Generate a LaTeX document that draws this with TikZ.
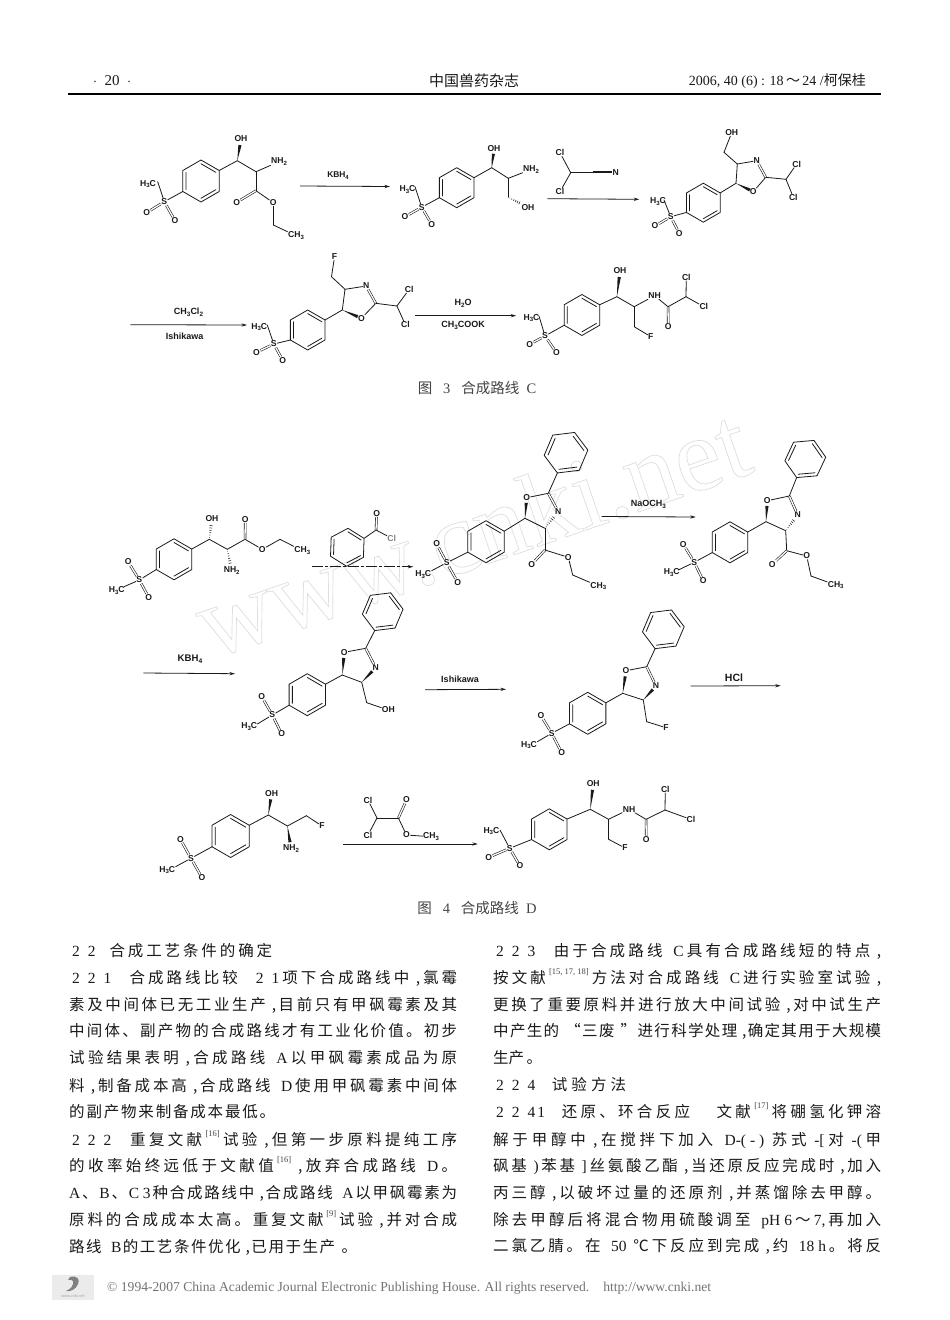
\documentclass[tikz,border=0pt]{standalone}
\usepackage{fontspec}
\usetikzlibrary{calc,arrows.meta}
\setmainfont{Liberation Serif}
\newfontfamily\lab{Liberation Sans}
\newfontfamily\cjk{Noto Sans CJK SC}
\definecolor{ink}{HTML}{1A1A1A}
\definecolor{capt}{HTML}{444444}
\definecolor{wm}{HTML}{DEDEDE}
\newcommand\sbs[1]{\raisebox{-0.22em}{\fontsize{.7em}{6}\selectfont #1}}
\newcommand\ltn[1]{{\rmfamily #1}}
\newcommand\sgp{\hspace{8pt}}
\newcommand\rf[1]{\raisebox{.6em}{\fontsize{8.5}{9}\selectfont\rmfamily\color{capt}#1}}
\tikzset{
  bond/.style={line width=.8pt,ink,line cap=round},
  dbl/.style={line width=.6pt,ink,double=white,double distance=1.3pt},
  atom/.style={font=\lab\bfseries\fontsize{8.6}{9}\selectfont,text=ink,inner sep=.4pt},
  rxn/.style={line width=.8pt,ink,-{Stealth[length=5.5pt,width=3.2pt]}},
  rgt/.style={font=\lab\bfseries\fontsize{9}{10}\selectfont,text=ink,inner sep=0pt},
  capn/.style={font=\cjk\fontsize{14.5}{16}\selectfont,text=capt,inner sep=0pt},
  blin/.style={font=\cjk\fontsize{15.5}{17}\selectfont,text=ink,inner sep=0pt,anchor=west,text height=12pt,text depth=3pt},
}
\newcommand\atm[3]{\node[atom] (#1) at (#2) {#3};}
\newcommand\crb[2]{\coordinate (#1) at (#2);}
\newcommand\bd[2]{\draw[bond] (#1) -- (#2);}
\newcommand\db[2]{\draw[dbl] (#1) -- (#2);}
\newcommand\wdg[3]{\fill[ink] (#1) -- ($($(#1)!#3!(#2)$)!1.6pt!90:(#1)$) -- ($($(#1)!#3!(#2)$)!1.6pt!-90:(#1)$) -- cycle;}
\newcommand\hsh[3]{\foreach \t/\w in {.12/.3,.27/.55,.42/.8,.57/1.05,.72/1.3,.87/1.55}{\draw[ink,line width=.55pt] ($($(#1)!\t*#3!(#2)$)!\w pt!90:(#1)$) -- ($($(#1)!\t*#3!(#2)$)!\w pt!-90:(#1)$);}}
\newcommand\arene[4]{%
  \coordinate (C) at (#1,#2);
  \foreach \k in {1,...,6}{\coordinate (R\k) at ({#1+#3*cos(#4+60*(\k-1))},{#2+#3*sin(#4+60*(\k-1))});}
  \draw[bond,line join=round] (R1)--(R2)--(R3)--(R4)--(R5)--(R6)--cycle;
  \draw[bond] ($(R1)!.18!(C)$)--($(R2)!.18!(C)$) ($(R3)!.18!(C)$)--($(R4)!.18!(C)$) ($(R5)!.18!(C)$)--($(R6)!.18!(C)$);}
\newcommand\sulfone[5]{%
  \atm{S}{#1}{S}\atm{Oa}{#2}{O}\atm{Ob}{#3}{O}
  \atm{Me}{#4}{H\sbs{3}C}\crb{Mb}{#5}
  \bd{S}{Mb}\db{S}{Oa}\db{S}{Ob}\bd{S}{R5}}
\makeatletter
\newcommand\bodyline[5]{\node[blin] (#1) at (#2,#3) {\hbox to #4pt{\@tfor\tkn:=#5\do{\tkn\hskip 0pt plus 1fil\relax}\unskip}};}
\makeatother
\begin{document}
\begin{tikzpicture}[x=1pt,y=-1pt]
\useasboundingbox (0,0) rectangle (950,1320);
\fill[white] (0,0) rectangle (950,1320);
% watermark: one outlined text
\node[font=\rmfamily\fontsize{104}{104}\selectfont,text=wm,rotate=19,inner sep=0pt] (wma) at (472,532) {\special{pdf:code 1 Tr 0.7 w}www.cnki.net\special{pdf:code 0 Tr}};
% header
\node[font=\rmfamily\fontsize{15}{16}\selectfont,text=ink,inner sep=0pt] (hl) at (112,81) {$\cdot$\ \ 20\ \ $\cdot$};
\node[font=\cjk\fontsize{15}{16}\selectfont,text=ink,inner sep=0pt] (hm) at (474,81) {中国兽药杂志};
\node[font=\rmfamily\fontsize{14}{16}\selectfont,text=ink,inner sep=0pt,anchor=east] (hr) at (866,81) {2006, 40 (6) : 18\,{\cjk ～}\,24 /{\cjk 柯保桂}};
\coordinate (hruleA) at (68,94);\coordinate (hruleB) at (881,94);
\draw[line width=1.9pt,black] (hruleA) -- (hruleB);
% ---------- Route C ----------
\begin{scope}[name prefix=c1-]
 \arene{201}{181}{21}{-90}
 \sulfone{164.3,201.7}{146.7,212.7}{175,220.7}{148,184}{157.7,181.7}
 \crb{a}{237.3,160.7}\atm{oh}{241,139}{OH}\crb{b}{256,171.7}\atm{n}{279,161.7}{NH\sbs{2}}
 \crb{c}{256,190.7}\atm{o1}{236.7,202.3}{O}\atm{o2}{273.3,202.7}{O}\crb{d}{273.3,225}\atm{me}{296,235.7}{CH\sbs{3}}
 \bd{R2}{a}\wdg{a}{oh}{.72}\bd{a}{b}\bd{b}{n}\bd{b}{c}\db{c}{o1}\bd{c}{o2}\bd{o2}{d}\bd{d}{me}
\end{scope}
\crb{ar1s}{300,186}\crb{ar1e}{390,186.5}\draw[rxn] (ar1s) -- (ar1e);
\node[rgt,font=\lab\bfseries\fontsize{8.4}{10}\selectfont] (r1) at (338,175.5) {KBH\sbs{4}};
\begin{scope}[name prefix=c2-]
 \arene{456.7}{187.7}{20}{-90}
 \sulfone{421.7,207.3}{405,216.7}{431.7,224.3}{407.5,189.3}{415,186.7}
 \crb{a}{491.7,167.7}\atm{oh}{494,148.3}{OH}\crb{b}{508.3,178.3}\atm{n}{531,169.5}{NH\sbs{2}}
 \crb{c}{508.3,197.3}\atm{o}{528,207.3}{OH}
 \bd{R2}{a}\wdg{a}{oh}{.72}\bd{a}{b}\bd{b}{n}\bd{b}{c}\hsh{c}{o}{.65}
\end{scope}
\begin{scope}[name prefix=rg1-]
 \atm{cla}{560,152.7}{Cl}\atm{clb}{560,191.7}{Cl}\crb{c}{570.7,172.7}\crb{d}{592.7,172.7}\atm{n}{615.7,172.7}{N}
 \bd{cla}{c}\bd{clb}{c}\bd{c}{d}
 \draw[line width=.55pt,ink,double=white,double distance=1.6pt] (d) -- (n);\draw[line width=.6pt,ink] (d) -- (n);
\end{scope}
\crb{ar2s}{547.3,198.7}\crb{ar2e}{639.3,199.3}\draw[rxn] (ar2s) -- (ar2e);
\begin{scope}[name prefix=c3-]
 \arene{703.3}{202.7}{19.5}{-90}
 \sulfone{670.7,216.7}{655,226}{679.3,233.3}{658,201.7}{664,200}
 \crb{c5}{736,183.3}\atm{o}{753.3,191.7}{O}\crb{c2}{765.7,177.3}\atm{n}{756.7,160.7}{N}\crb{c4}{737.3,164}
 \crb{ch}{724,152.3}\atm{oh}{731.7,132.7}{OH}\crb{cc}{786,179.3}\atm{cla}{796.7,164}{Cl}\atm{clb}{793.3,197.3}{Cl}
 \bd{R2}{c5}\wdg{c5}{o}{.8}\bd{o}{c2}\db{c2}{n}\bd{n}{c4}\bd{c4}{c5}\bd{c4}{ch}\bd{ch}{oh}\bd{c2}{cc}\bd{cc}{cla}\bd{cc}{clb}
\end{scope}
\crb{ar3s}{130.4,324.7}\crb{ar3e}{247,325}\draw[rxn] (ar3s) -- (ar3e);
\node[rgt] (r2) at (188.5,312.3) {CH\sbs{3}Cl\sbs{2}};
\node[rgt] (r3) at (184.6,336.5) {Ishikawa};
\begin{scope}[name prefix=c4-]
 \arene{307.7}{330}{20}{-90}
 \sulfone{273.8,344}{256.5,352.3}{282.7,360.3}{259.2,327}{267.3,325}
 \crb{c5}{342.3,310}\atm{o}{361.5,318.3}{O}\crb{c2}{375.8,303.3}\atm{n}{366.2,286}{N}\crb{c4}{345,289.3}
 \crb{ch}{331.5,276.7}\atm{f}{334.6,256.5}{F}\crb{cc}{396.9,306}\atm{cla}{409.2,289.3}{Cl}\atm{clb}{405.4,324.7}{Cl}
 \bd{R2}{c5}\wdg{c5}{o}{.8}\bd{o}{c2}\db{c2}{n}\bd{n}{c4}\bd{c4}{c5}\bd{c4}{ch}\bd{ch}{f}\bd{c2}{cc}\bd{cc}{cla}\bd{cc}{clb}
\end{scope}
\crb{ar4s}{415.4,315.7}\crb{ar4e}{516.2,315.7}\draw[rxn] (ar4s) -- (ar4e);
\node[rgt] (r4) at (463,303.3) {H\sbs{2}O};
\node[rgt] (r5) at (463,325.7) {CH\sbs{3}COOK};
\begin{scope}[name prefix=c5-]
 \arene{581.9}{315}{20.5}{-90}
 \sulfone{545,336}{529.6,344.3}{556.5,352.7}{531.5,318}{539,316}
 \crb{a}{616.9,296.7}\atm{oh}{620,270.5}{OH}\crb{b}{634.2,306.7}\atm{n}{654.6,295.7}{NH}\crb{co}{668,306.7}\atm{o}{668.3,326.7}{O}
 \crb{cc}{686,296.7}\atm{cla}{686.3,277.3}{Cl}\atm{clb}{703.8,306.7}{Cl}\crb{ch}{634.2,326.7}\atm{f}{650.8,336.7}{F}
 \bd{R2}{a}\wdg{a}{oh}{.75}\bd{a}{b}\bd{b}{n}\bd{n}{co}\db{co}{o}\bd{co}{cc}\bd{cc}{cla}\bd{cc}{clb}\bd{b}{ch}\bd{ch}{f}
\end{scope}
\node[capn] (cap3) at (477,388) {图\ltn{\ \ \ 3\ \ \ }合成路线\ltn{\ \ C}};
% ---------- Route D ----------
\begin{scope}[name prefix=d1-]
 \arene{174}{559.3}{20.5}{-90}
 \sulfone{139.3,580}{128.3,562}{148.7,597.3}{116.7,590.5}{124,586.7}
 \crb{a}{209.3,539.3}\atm{oh}{212,518.3}{OH}\crb{b}{227.3,549.3}\atm{n}{231.7,570.5}{NH\sbs{2}}\crb{c}{245,539.3}\atm{o}{245.3,519.3}{O}
 \atm{oe}{262.3,549.3}{O}\crb{d}{280,539.3}\atm{me}{302.3,550.7}{CH\sbs{3}}
 \bd{R2}{a}\hsh{a}{oh}{.75}\bd{a}{b}\hsh{b}{n}{.75}\bd{b}{c}\db{c}{o}\bd{c}{oe}\bd{oe}{d}\bd{d}{me}
\end{scope}
\begin{scope}[name prefix=rg2-]
 \arene{347.3}{547.3}{19}{-88}
 \crb{c}{376,530}\atm{o}{376.7,513.3}{O}\node[atom,text=gray] (cl) at (391.7,538.3) {Cl};
 \bd{R2}{c}\db{c}{o}\bd{c}{cl}
\end{scope}
\crb{ar5s}{311.7,566.7}\crb{ar5e}{413.3,566.7}\draw[rxn,dash pattern=on 11pt off 2pt on 3pt off 2pt] (ar5s) -- (ar5e);
\begin{scope}[name prefix=d2-]
 \arene{486}{541.7}{21}{-90}
 \sulfone{446.7,562.7}{436.7,544}{457.7,582.3}{423.3,574.5}{431.7,570.7}
 \crb{c5}{525,518.3}\atm{o}{526.7,497.7}{O}\crb{c2}{548.3,493.3}\atm{n}{558.3,511.7}{N}\crb{c4}{545,528.3}
 \crb{co}{545,550}\atm{o1}{531.7,564.3}{O}\atm{o2}{568.3,557.3}{O}\crb{ch}{572.7,575}\atm{me}{598.3,586}{CH\sbs{3}}
 \bd{R2}{c5}\wdg{c5}{o}{.75}\bd{o}{c2}\db{c2}{n}\hsh{c4}{n}{.75}\bd{c4}{c5}\bd{c4}{co}\db{co}{o1}\bd{co}{o2}\bd{o2}{ch}\bd{ch}{me}
\end{scope}
\begin{scope}[name prefix=d2p-]
 \arene{566}{452.7}{22}{53}
 \bd{d2-c2}{R2}
\end{scope}
\crb{ar6s}{601.7,516.5}\crb{ar6e}{695.7,517}\draw[rxn] (ar6s) -- (ar6e);
\node[rgt] (r6) at (648.3,504) {NaOCH\sbs{3}};
\begin{scope}[name prefix=d3-]
 \arene{730}{542.3}{20.5}{-90}
 \sulfone{694.3,562.3}{683.3,544.3}{703.3,581}{671.7,572.7}{678.3,570}
 \crb{c5}{766,521.7}\atm{o}{767.3,500.7}{O}\crb{c2}{789.3,496}\atm{n}{797.7,515}{N}\crb{c4}{785.7,530.7}
 \crb{co}{786.7,550.7}\atm{o1}{772.3,564.3}{O}\atm{o2}{806.7,556}{O}\crb{ch}{811,576}\atm{me}{835.7,585}{CH\sbs{3}}
 \bd{R2}{c5}\wdg{c5}{o}{.75}\bd{o}{c2}\db{c2}{n}\hsh{c4}{n}{.75}\bd{c4}{c5}\bd{c4}{co}\db{co}{o1}\bd{co}{o2}\bd{o2}{ch}\bd{ch}{me}
\end{scope}
\begin{scope}[name prefix=d3p-]
 \arene{805.3}{459}{20.5}{55}
 \bd{d3-c2}{R2}
\end{scope}
\crb{ar7s}{143.3,673}\crb{ar7e}{235,673.7}\draw[rxn] (ar7s) -- (ar7e);
\node[rgt,font=\lab\bfseries\fontsize{9.6}{10}\selectfont] (r7) at (190,659.3) {KBH\sbs{4}};
\begin{scope}[name prefix=d4-]
 \arene{307.3}{694.7}{21}{-90}
 \sulfone{272.3,715}{261.7,696.7}{281.7,734}{249.3,726.7}{257.3,724}
 \crb{c5}{342.3,675}\atm{o}{344.3,652.3}{O}\crb{c2}{365.7,648.3}\atm{n}{375.7,667.7}{N}\crb{c4}{361.7,682.3}
 \crb{ch}{366.7,702.7}\atm{oh}{388.3,710}{OH}
 \bd{R2}{c5}\wdg{c5}{o}{.75}\bd{o}{c2}\db{c2}{n}\wdg{c4}{n}{.75}\bd{c4}{c5}\bd{c4}{ch}\bd{ch}{oh}
\end{scope}
\begin{scope}[name prefix=d4p-]
 \arene{382.7}{611.7}{20.5}{53}
 \bd{d4-c2}{R2}
\end{scope}
\crb{ar8s}{425,689.7}\crb{ar8e}{506,689.3}\draw[rxn] (ar8s) -- (ar8e);
\node[rgt] (r8) at (460,679.3) {Ishikawa};
\begin{scope}[name prefix=d5-]
 \arene{587.7}{713.3}{21}{-90}
 \sulfone{551.7,733.3}{541,715.7}{561.7,752.7}{529,745}{537.3,741.7}
 \crb{c5}{622.7,693.3}\atm{o}{626,670.7}{O}\crb{c2}{646.7,666.7}\atm{n}{656,686}{N}\crb{c4}{643.3,700}
 \crb{ch}{646.7,721.7}\atm{f}{666,727.7}{F}
 \bd{R2}{c5}\wdg{c5}{o}{.75}\bd{o}{c2}\db{c2}{n}\wdg{c4}{n}{.75}\bd{c4}{c5}\bd{c4}{ch}\bd{ch}{f}
\end{scope}
\begin{scope}[name prefix=d5p-]
 \arene{663.3}{629.3}{21}{53}
 \bd{d5-c2}{R2}
\end{scope}
\crb{ar9s}{690.7,686}\crb{ar9e}{780.7,685.7}\draw[rxn] (ar9s) -- (ar9e);
\node[rgt,font=\lab\bfseries\fontsize{10.5}{11}\selectfont] (r9) at (734,677.3) {HCl};
\begin{scope}[name prefix=d6-]
 \arene{230.6}{836}{21.5}{-90}
 \sulfone{191,858.3}{180.4,839.3}{202,877.7}{167.2,870}{175.6,866.7}
 \crb{a}{268.3,815}\atm{oh}{271.6,793.3}{OH}\crb{b}{287.4,826}\atm{n}{291,848.5}{NH\sbs{2}}\crb{ch}{306.4,815.7}\atm{f}{322,826}{F}
 \bd{R2}{a}\wdg{a}{oh}{.72}\bd{a}{b}\wdg{b}{n}{.72}\bd{b}{ch}\bd{ch}{f}
\end{scope}
\begin{scope}[name prefix=rg3-]
 \atm{cla}{368,800}{Cl}\atm{clb}{368,835}{Cl}\crb{c}{377,818}\crb{d}{398.4,818}\atm{o}{406.5,800}{O}\atm{oe}{406.5,835}{O}\atm{me}{431,836.7}{CH\sbs{3}}
 \bd{cla}{c}\bd{clb}{c}\bd{c}{d}\db{d}{o}\bd{d}{oe}\bd{oe}{me}
\end{scope}
\crb{ar10s}{343.4,844}\crb{ar10e}{477.8,844}\draw[rxn] (ar10s) -- (ar10e);
\begin{scope}[name prefix=d7-]
 \arene{549.3}{829.3}{20.5}{-90}
 \sulfone{509.7,848.3}{488.8,857.3}{520,866}{491.4,831}{500,830}
 \crb{a}{590.3,809.3}\atm{oh}{593.2,783.3}{OH}\crb{b}{608.6,819.3}\atm{n}{629,809.3}{NH}\crb{co}{646,819.3}\atm{o}{646.3,839.3}{O}
 \crb{cc}{665,810}\atm{cla}{665.3,789.3}{Cl}\atm{clb}{691,819.5}{Cl}\crb{ch}{608.6,839.3}\atm{f}{625,848}{F}
 \bd{R2}{a}\wdg{a}{oh}{.75}\bd{a}{b}\bd{b}{n}\bd{n}{co}\db{co}{o}\bd{co}{cc}\bd{cc}{cla}\bd{cc}{clb}\bd{b}{ch}\bd{ch}{f}
\end{scope}
\node[capn] (cap4) at (477,908) {图\ltn{\ \ \ 4\ \ \ }合成路线\ltn{\ \ D}};
% ---------- left column ----------
\bodyline{l1}{72}{952}{200}{{\ltn{2\sgp 2}}{\hspace{8pt}}合成工艺条件的确定}
\bodyline{l2}{72}{979}{385}{{\ltn{2\sgp 2\sgp 1}}{\hspace{12pt}}合成路线比较{\hspace{12pt}}{\ltn{2\sgp 1}}项下合成路线中{\ ,}氯霉}
\bodyline{l3}{69}{1006}{388}{素及中间体已无工业生产{\ ,}目前只有甲砜霉素及其}
\bodyline{l4}{69}{1032}{388}{中间体、副产物的合成路线才有工业化价值。初步}
\bodyline{l5}{69}{1059}{388}{试验结果表明{\ ,}合成路线{\ltn{\ \ A}}以甲砜霉素成品为原}
\bodyline{l6}{69}{1087}{388}{料{\ ,}制备成本高{\ ,}合成路线{\ltn{\ \ D}}使用甲砜霉素中间体}
\bodyline{l7}{69}{1113}{206}{的副产物来制备成本最低。}
\bodyline{l8}{72}{1141}{385}{{\ltn{2\sgp 2\sgp 2}}{\hspace{12pt}}重复文献{\rf{[16]}}试验{\ ,}但第一步原料提纯工序}
\bodyline{l9}{69}{1167}{388}{的收率始终远低于文献值{\rf{[16]}}{\ ,}放弃合成路线{\ltn{\ \ D}}。}
\bodyline{l10}{69}{1194}{388}{{\ltn{A}}、{\ltn{B}}、{\ltn{C\ 3}}种合成路线中{\ ,}合成路线{\ltn{\ \ A}}以甲砜霉素为}
\bodyline{l11}{69}{1221}{388}{原料的合成成本太高。重复文献{\rf{[9]}}试验{\ ,}并对合成}
\bodyline{l12}{69}{1248}{288}{路线{\ltn{\ \ B}}的工艺条件优化{\ ,}已用于生产{\ }。}
% ---------- right column ----------
\bodyline{m1}{496}{952}{385}{{\ltn{2\sgp 2\sgp 3}}{\hspace{12pt}}由于合成路线{\ltn{\ \ C}}具有合成路线短的特点{\ ,}}
\bodyline{m2}{493}{979}{388}{按文献{\rf{[15, 17, 18]}}方法对合成路线{\ltn{\ \ C}}进行实验室试验{\ ,}}
\bodyline{m3}{493}{1006}{388}{更换了重要原料并进行放大中间试验{\ ,}对中试生产}
\bodyline{m4}{493}{1032}{388}{中产生的{\ }“三废{\ }”进行科学处理{\ ,}确定其用于大规模}
\bodyline{m5}{493}{1059}{46}{生产{\ }。}
\bodyline{m6}{496}{1086}{130}{{\ltn{2\sgp 2\sgp 4}}{\hspace{8pt}}试验方法}
\bodyline{m7}{496}{1113}{385}{{\ltn{2\sgp 2\sgp 4\hspace{2pt}1}}{\hspace{10pt}}还原、环合反应{\hspace{20pt}}文献{\rf{[17]}}将硼氢化钾溶}
\bodyline{m8}{493}{1141}{388}{解于甲醇中{\ ,}在搅拌下加入{\ltn{\ \ D-(\ -\ )\ }}苏式{\ltn{\ -[}}对{\ltn{\ -(}}甲}
\bodyline{m9}{493}{1167}{388}{砜基{\ltn{\ )}}苯基{\ltn{\ ]}}丝氨酸乙酯{\ ,}当还原反应完成时{\ ,}加入}
\bodyline{m10}{493}{1194}{388}{丙三醇{\ ,}以破坏过量的还原剂{\ ,}并蒸馏除去甲醇。}
\bodyline{m11}{493}{1221}{388}{除去甲醇后将混合物用硫酸调至{\ltn{\ \ pH\ 6}}～{\ltn{7,}}再加入}
\bodyline{m12}{493}{1247}{388}{二氯乙腈。在{\ltn{\ \ 50\ }}℃下反应到完成{\ ,}约{\ltn{\ \ 18\ h}}。将反}
% ---------- footer ----------
\fill[black!8] (52,1275) rectangle (94,1300);
\fill[black!50] (70,1277) .. controls (78,1275) and (80,1280) .. (78,1284) .. controls (76,1289) and (71,1292) .. (66,1291) .. controls (71,1289) and (74,1285) .. (73,1281) .. controls (72,1280) and (70,1279) .. (68,1280) -- cycle;
\node[font=\lab\fontsize{4}{5}\selectfont,text=black!35,inner sep=0pt] (lg) at (73,1296) {www.cnki.net};
\node[font=\rmfamily\fontsize{13.6}{15}\selectfont,text=black!55,inner sep=0pt,anchor=west] (ft) at (107,1288) {© 1994-2007 China Academic Journal Electronic Publishing House. All rights reserved.\hspace{14pt}http://www.cnki.net};
\end{tikzpicture}
\end{document}
